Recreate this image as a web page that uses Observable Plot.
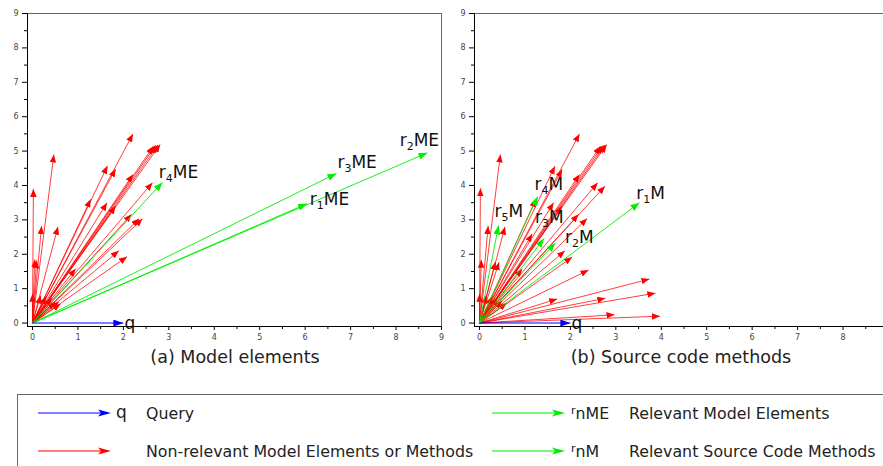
<!DOCTYPE html>
<html>
<head>
<meta charset="utf-8">
<script src="https://cdn.jsdelivr.net/npm/d3@7"></script>
<script src="https://cdn.jsdelivr.net/npm/@observablehq/plot@0.6"></script>
<style>
html, body { margin: 0; padding: 0; background: #fff; overflow: hidden; }
#root { position: relative; width: 883px; height: 466px; overflow: hidden; font-family: "DejaVu Sans", Verdana, sans-serif; color: #1a1a1a; }
.panel { position: absolute; top: 0; width: 450px; height: 345px; }
.panel svg { max-width: none !important; }
.caption { position: absolute; top: 347px; font-size: 17.5px; white-space: nowrap; transform: translateX(-50%); color: #222; }
#legend { position: absolute; left: 17px; top: 394px; width: 900px; height: 100px; border: 1px solid #666; box-sizing: border-box; }
#legend .t { position: absolute; font-size: 15.8px; white-space: nowrap; transform: translateY(-50%); color: #222; }
#legend svg { position: absolute; left: 0; top: 0; overflow: visible; }
</style>
</head>
<body>
<div id="root">
  <div id="left" class="panel" style="left:0px"></div>
  <div id="right" class="panel" style="left:447px"></div>
  <div class="caption" style="left:235px">(a) Model elements</div>
  <div class="caption" style="left:681px">(b) Source code methods</div>
  <div id="legend"></div>
</div>
<script>
// ---------- data ----------
const ticks = [0, 1, 2, 3, 4, 5, 6, 7, 8, 9];
const ticksRightX = [0, 1, 2, 3, 4, 5, 6, 7, 8]; // the 9 lies past the picture's right edge
const minorTicks = [0.5, 1.5, 2.5, 3.5, 4.5, 5.5, 6.5, 7.5, 8.5];

const queryX = [2];
const queryY = [0];

// (a) Model elements
const leftRedX = [0.02, 0.47, 2.21, 2.66, 2.71, 2.76, 2.81, 1.65, 1.83, 2.21, 2.64, 1.28, 1.64, 1.83, 2.18, 2.35, 2.42, 0.2, 0.56, 0.05, 0.09, 0.95, 1.9, 2.08, 0, 0.18, 0.3, 0.43, 0.5, 0.58, 0.62];
const leftRedY = [3.9, 4.9, 5.5, 5.14, 5.17, 5.18, 5.19, 4.57, 4.48, 4.32, 4.08, 3.6, 3.5, 3.4, 3.16, 3.04, 3.03, 2.82, 2.8, 1.85, 1.82, 1.58, 2.1, 1.93, 0.85, 0.8, 0.78, 0.74, 0.62, 0.62, 0.56];
const leftGreenX = [6.04, 8.69, 6.69, 2.86];
const leftGreenY = [3.47, 4.95, 4.35, 4.09];
const leftGreenNames = ["r₁ME", "r₂ME", "r₃ME", "r₄ME"];
const leftLabelX = [6.1, 8.08, 6.71, 2.78];
const leftLabelY = [3.6, 5.31, 4.67, 4.37];

// (b) Source code methods
const rightRedX = [0.02, 0.46, 2.2, 2.66, 2.71, 2.76, 2.8, 1.66, 1.82, 2.2, 2.6, 2.76, 1.24, 1.63, 1.82, 2.18, 2.37, 1.16, 0.19, 0.56, 0.04, 0.35, 0.43, 0.94, 1.88, 2.04, 2.4, 3.74, 3.87, 3.97, 2.97, 2.77, 1.71, 0, 0.15, 0.28, 0.4, 0.5, 0.6];
const rightRedY = [3.92, 4.9, 5.5, 5.14, 5.16, 5.18, 5.19, 4.56, 4.47, 4.32, 4.08, 3.98, 3.6, 3.5, 3.4, 3.16, 3.04, 2.59, 2.82, 2.8, 1.84, 1.78, 1.77, 1.58, 2.1, 1.92, 1.54, 1.28, 0.87, 0.2, 0.24, 0.72, 0.7, 0.85, 0.8, 0.78, 0.74, 0.65, 0.58];
const rightGreenX = [3.52, 1.67, 1.42, 1.28, 0.42];
const rightGreenY = [3.5, 2.33, 2.46, 3.68, 2.84];
const rightGreenNames = ["r₁M", "r₂M", "r₃M", "r₄M", "r₅M"];
const rightLabelX = [3.45, 1.88, 1.22, 1.21, 0.33];
const rightLabelY = [3.76, 2.5, 3.07, 4.03, 3.24];

// ---------- helpers ----------
const NS = "http://www.w3.org/2000/svg";
function head(len, wid) {
  return (color, context) => {
    const doc = (context && context.document) || document;
    const m = doc.createElementNS(NS, "marker");
    m.setAttribute("viewBox", `${-len} ${-wid / 2} ${len} ${wid}`);
    m.setAttribute("markerWidth", len);
    m.setAttribute("markerHeight", wid);
    m.setAttribute("markerUnits", "userSpaceOnUse");
    m.setAttribute("refX", 0);
    m.setAttribute("refY", 0);
    m.setAttribute("orient", "auto");
    const p = doc.createElementNS(NS, "path");
    p.setAttribute("d", `M${-len},${-wid / 2}L0,0L${-len},${wid / 2}Z`);
    p.setAttribute("fill", color);
    p.setAttribute("stroke", "none");
    m.appendChild(p);
    return m;
  };
}
const zip = (xs, ys, extra = {}) => xs.map((x, i) => {
  const o = {x, y: ys[i]};
  for (const k in extra) o[k] = extra[k][i];
  return o;
});

function panel(redX, redY, greenX, greenY, names, labX, labY, xTicks) {
  const red = zip(redX, redY);
  const green = zip(greenX, greenY);
  const query = zip(queryX, queryY);
  const labels = zip(labX, labY, {name: names});
  return Plot.plot({
    width: 450,
    height: 345,
    marginLeft: 27,
    marginRight: 9,
    marginTop: 13,
    marginBottom: 19,
    style: {fontFamily: "'DejaVu Sans', Verdana, sans-serif", fontSize: "8px", background: "transparent", overflow: "visible", maxWidth: "none"},
    x: {domain: [-0.11, 9], label: null},
    y: {domain: [-0.1, 9], label: null},
    marks: [
      Plot.frame({stroke: "#666"}),
      Plot.ruleX([-0.11], {stroke: "#000"}),
      Plot.ruleY([-0.1], {stroke: "#000"}),
      Plot.axisY(ticks, {tickSize: 5, tickPadding: 4, stroke: "#000", fill: "#444", fontSize: 8}),
      Plot.axisY(minorTicks, {tickSize: 3, stroke: "#000", fill: "none"}),
      Plot.axisX(xTicks, {tickSize: 4, tickPadding: 4, stroke: "#000", fill: "#444", fontSize: 8}),
      Plot.axisX(minorTicks, {tickSize: 3, stroke: "#000", fill: "none"}),
      Plot.link(red, {x1: 0, y1: 0, x2: "x", y2: "y", stroke: "#ff0000", strokeWidth: 0.85, strokeOpacity: 0.9, markerEnd: head(8, 6.5)}),
      Plot.link(green, {x1: 0, y1: 0, x2: "x", y2: "y", stroke: "#00ee00", strokeWidth: 0.9, markerEnd: head(9, 7)}),
      Plot.link(query, {x1: 0, y1: 0, x2: "x", y2: "y", stroke: "#0000ff", strokeWidth: 1.1, markerEnd: head(10, 7)}),
      Plot.text(query, {x: "x", y: "y", text: () => "q", textAnchor: "start", dx: 1, fontSize: 17, fill: "#111"}),
      Plot.text(labels, {x: "x", y: "y", text: "name", textAnchor: "start", fontSize: 17, fill: "#111"})
    ]
  });
}

// turn "r₁ME" into r + lowered small digit + ME (kept as real text)
const subDigits = "₀₁₂₃₄₅₆₇₈₉";
function subscriptify(svg) {
  d3.select(svg).selectAll("text").each(function () {
    const s = this.textContent;
    const m = /^r([₀-₉])(.*)$/.exec(s);
    if (!m) return;
    const t = d3.select(this);
    t.text(null);
    t.append("tspan").text("r");
    t.append("tspan").attr("font-size", 11).attr("dy", "4").text(String(subDigits.indexOf(m[1])));
    t.append("tspan").attr("dy", "-4").text(m[2]);
  });
}

const leftSvg = panel(leftRedX, leftRedY, leftGreenX, leftGreenY, leftGreenNames, leftLabelX, leftLabelY, ticks);
const rightSvg = panel(rightRedX, rightRedY, rightGreenX, rightGreenY, rightGreenNames, rightLabelX, rightLabelY, ticksRightX);
subscriptify(leftSvg);
subscriptify(rightSvg);
document.getElementById("left").appendChild(leftSvg);
document.getElementById("right").appendChild(rightSvg);

// ---------- legend ----------
const legendItems = [
  {col: 0, row: 0, color: "#0000ff", sym: "q", text: "Query"},
  {col: 0, row: 1, color: "#ff0000", sym: "", text: "Non-relevant Model Elements or Methods"},
  {col: 1, row: 0, color: "#00ee00", sym: "nME", text: "Relevant Model Elements"},
  {col: 1, row: 1, color: "#00ee00", sym: "nM", text: "Relevant Source Code Methods"}
];
const legend = d3.select("#legend");
const lsvg = legend.append("svg").attr("width", 880).attr("height", 90);
const colX = [20, 474];
const rowY = [18, 56];
legendItems.forEach(it => {
  const x0 = colX[it.col], y0 = rowY[it.row];
  lsvg.append("line").attr("x1", x0).attr("x2", x0 + 70).attr("y1", y0).attr("y2", y0)
    .attr("stroke", it.color).attr("stroke-width", 1.2);
  lsvg.append("path").attr("d", `M${x0 + 60},${y0 - 3.5}L${x0 + 73},${y0}L${x0 + 60},${y0 + 3.5}L${x0 + 63},${y0}Z`)
    .attr("fill", it.color);
  if (it.col === 0) {
    if (it.sym) legend.append("div").attr("class", "t").style("left", (x0 + 78) + "px").style("top", (y0 - 1) + "px").style("font-size", "17px").text(it.sym);
  } else {
    const d = legend.append("div").attr("class", "t").style("left", (x0 + 79) + "px").style("top", (y0) + "px");
    d.append("span").style("font-size", "11px").style("vertical-align", "5px").text("r");
    d.append("span").text(it.sym);
  }
  legend.append("div").attr("class", "t").style("left", (x0 + (it.col === 0 ? 108 : 137)) + "px").style("top", y0 + "px").text(it.text);
});
</script>
</body>
</html>
